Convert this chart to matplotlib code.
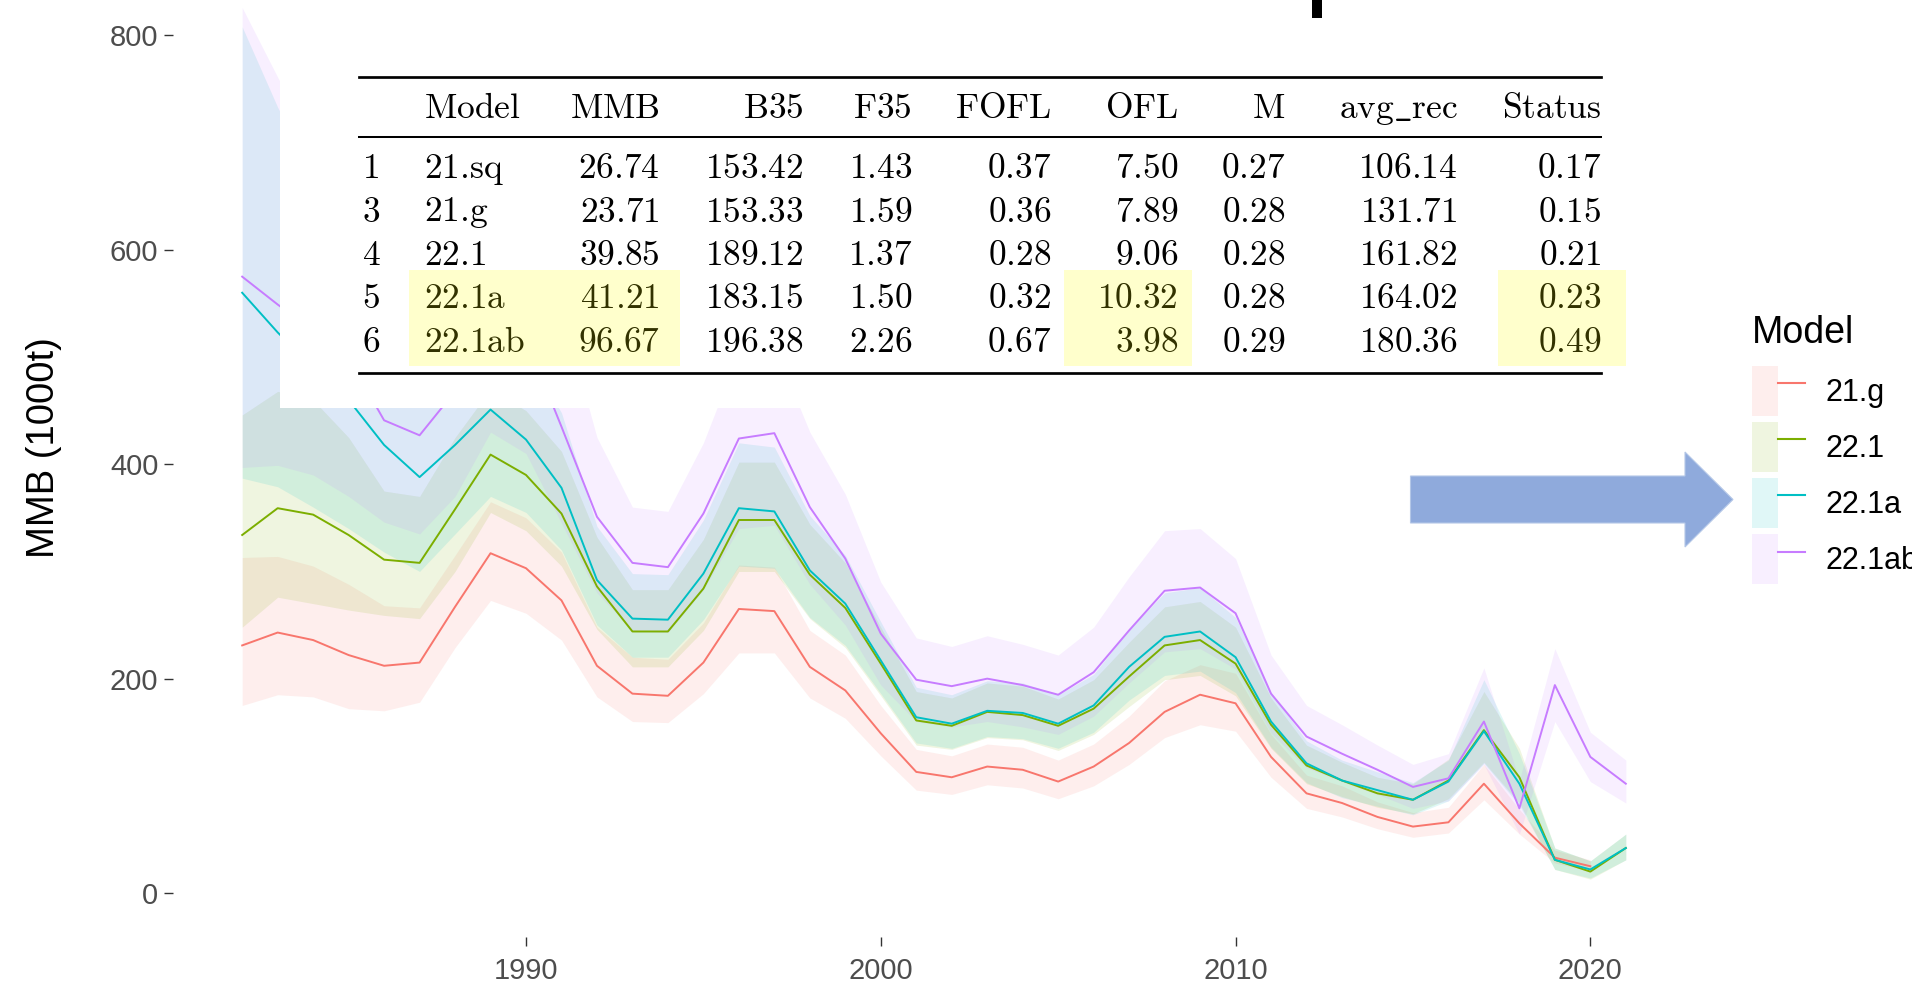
import numpy as np
import matplotlib.pyplot as plt
from matplotlib.patches import Rectangle, Patch, FancyArrow
from matplotlib.lines import Line2D
from matplotlib.legend_handler import HandlerTuple

plt.rcParams['font.family'] = ['Liberation Sans', 'DejaVu Sans']
plt.rcParams['mathtext.fontset'] = 'cm'

nan = np.nan
years = np.arange(1982, 2022)
models = ['21.g', '22.1', '22.1a', '22.1ab']
colors = ['#F8766D', '#7CAE00', '#00BFC4', '#C77CFF']

# MMB (1000t), 1982-2021
mmb_21g = [231, 243, 236, 222, 212, 215, 267, 317, 303, 273, 212, 186, 184, 215, 265, 263, 211, 189, 149, 113,
           108, 118, 115, 104, 118, 140, 169, 185, 177, 127, 93, 84, 71, 62, 66, 102, 65, 33, 25, nan]
lo_21g = [175, 185, 183, 172, 170, 178, 229, 273, 261, 236, 183, 160, 159, 186, 224, 224, 182, 163, 128, 96,
          92, 101, 98, 88, 100, 120, 145, 157, 151, 108, 79, 71, 60, 52, 56, 87, 55, 28, 21, nan]
hi_21g = [313, 314, 305, 288, 268, 266, 315, 365, 350, 318, 248, 220, 218, 252, 306, 304, 245, 222, 175, 134,
          128, 139, 136, 124, 139, 165, 198, 213, 205, 148, 110, 100, 85, 75, 80, 120, 78, 40, 31, nan]

mmb_221 = [334, 359, 353, 334, 311, 308, 358, 409, 390, 354, 286, 244, 244, 284, 348, 348, 297, 266, 214, 161,
           156, 169, 166, 156, 172, 202, 231, 236, 214, 157, 119, 105, 93, 87, 105, 152, 108, 31, 20, 42]
lo_221 = [248, 276, 270, 264, 259, 256, 300, 355, 338, 305, 246, 211, 211, 245, 300, 300, 256, 229, 184, 138,
          134, 145, 143, 133, 148, 174, 199, 203, 184, 135, 102, 90, 80, 74, 88, 122, 84, 22, 13, 31]
hi_221 = [446, 468, 460, 425, 375, 370, 425, 470, 450, 412, 332, 283, 283, 330, 402, 402, 344, 308, 248, 188,
          182, 196, 193, 181, 199, 234, 267, 272, 248, 182, 138, 122, 108, 102, 125, 188, 135, 42, 30, 55]

mmb_221a = [560, 523, 490, 460, 418, 388, 418, 451, 423, 378, 292, 256, 255, 298, 359, 356, 301, 270, 217, 164,
            158, 170, 168, 158, 175, 211, 239, 244, 220, 160, 121, 105, 96, 87, 104, 151, 102, 31, 22, 42]
lo_221a = [387, 379, 360, 340, 318, 300, 335, 370, 355, 320, 250, 220, 220, 255, 305, 303, 257, 231, 186, 140,
           135, 146, 144, 135, 150, 180, 203, 207, 187, 136, 103, 89, 81, 73, 86, 121, 82, 22, 14, 31]
hi_221a = [808, 733, 670, 615, 550, 505, 525, 550, 505, 448, 342, 298, 297, 348, 420, 416, 352, 315, 253, 192,
           185, 198, 196, 185, 204, 246, 280, 285, 257, 187, 142, 124, 113, 103, 124, 199, 130, 42, 30, 55]

mmb_221ab = [575, 549, 525, 499, 441, 427, 468, 545, 517, 435, 351, 308, 304, 354, 424, 429, 360, 312, 242, 199,
             193, 200, 194, 185, 206, 245, 282, 285, 261, 186, 146, 130, 115, 99, 107, 160, 79, 194, 127, 102]
lo_221ab = [397, 399, 390, 370, 346, 335, 370, 430, 410, 345, 280, 245, 243, 283, 340, 343, 288, 250, 194, 160,
            155, 160, 155, 148, 165, 196, 225, 228, 209, 149, 117, 104, 92, 79, 86, 120, 55, 160, 104, 84]
hi_221ab = [826, 761, 700, 650, 570, 545, 590, 680, 650, 545, 425, 360, 356, 420, 505, 510, 430, 372, 290, 238,
            230, 240, 232, 222, 248, 295, 338, 340, 312, 222, 175, 157, 138, 120, 130, 210, 105, 228, 150, 124]

mids = [mmb_21g, mmb_221, mmb_221a, mmb_221ab]
lows = [lo_21g, lo_221, lo_221a, lo_221ab]
highs = [hi_21g, hi_221, hi_221a, hi_221ab]

# table pasted on top of the chart
tbl_header = ['Model', 'MMB', 'B35', 'F35', 'FOFL', 'OFL', 'M', r'avg\_rec', 'Status']
tbl_rows = ['1', '3', '4', '5', '6']
tbl_model = ['21.sq', '21.g', '22.1', '22.1a', '22.1ab']
tbl_mmb = ['26.74', '23.71', '39.85', '41.21', '96.67']
tbl_b35 = ['153.42', '153.33', '189.12', '183.15', '196.38']
tbl_f35 = ['1.43', '1.59', '1.37', '1.50', '2.26']
tbl_fofl = ['0.37', '0.36', '0.28', '0.32', '0.67']
tbl_ofl = ['7.50', '7.89', '9.06', '10.32', '3.98']
tbl_m = ['0.27', '0.28', '0.28', '0.28', '0.29']
tbl_rec = ['106.14', '131.71', '161.82', '164.02', '180.36']
tbl_status = ['0.17', '0.15', '0.21', '0.23', '0.49']

W, H = 1912, 984
fig = plt.figure(figsize=(W / 100, H / 100), dpi=100)
fig.patch.set_facecolor('white')


def fx(px):
    return px / W


def fy(py):
    return 1 - py / H


# main panel (top runs off the picture, as in the screenshot)
ymin, ymax = -41, 880
ppu = 1.072
ax = fig.add_axes([fx(173), fy(937), (1695 - 173) / W, (ymax - ymin) * ppu / H])
for c, lo, hi in zip(colors, lows, highs):
    ax.fill_between(years, lo, hi, color=c, alpha=0.12, linewidth=0)
for c, m in zip(colors, mids):
    ax.plot(years, m, color=c, lw=1.4)

ax.set_xlim(1980.05, 2022.95)
ax.set_ylim(ymin, ymax)
ax.set_xticks([1990, 2000, 2010, 2020])
ax.set_yticks([0, 200, 400, 600, 800])
for s in ax.spines.values():
    s.set_visible(False)
ax.tick_params(length=6.5, width=1.0, color='#333333', labelsize=21, labelcolor='#4D4D4D', pad=4)
ax.tick_params(axis='x', pad=8)
ax.set_ylabel('MMB (1000t)', fontsize=27.5, color='black')
ax.yaxis.set_label_coords(fx(62), fy(448), transform=fig.transFigure)

# legend
handles = [(Patch(facecolor=c, alpha=0.12, edgecolor='none'), Line2D([], [], color=c, lw=1.5)) for c in colors]
fig.legend(handles, models, loc='upper left', bbox_to_anchor=(fx(1752), fy(366)),
           fontsize=22, frameon=False, handlelength=1.73, handleheight=2.14,
           labelspacing=0.2, handletextpad=0.69, borderpad=0, borderaxespad=0,
           handler_map={tuple: HandlerTuple(ndivide=None, pad=0)})
fig.text(fx(1752), fy(333), 'Model', fontsize=27, ha='left', va='center')

# white box with the table
fig.add_artist(Rectangle((fx(280), fy(408)), fx(1660) - fx(280), 408 / H, transform=fig.transFigure,
                         facecolor='white', edgecolor='none', zorder=5))
for y, lw in [(76.5, 1.95), (136.5, 1.45), (372.5, 1.95)]:
    fig.add_artist(Line2D([fx(359), fx(1601)], [fy(y), fy(y)], transform=fig.transFigure,
                          color='black', lw=lw, zorder=6))

fs = 25.5
cols = [tbl_model, tbl_mmb, tbl_b35, tbl_f35, tbl_fofl, tbl_ofl, tbl_m, tbl_rec, tbl_status]
col_x = [423.5, 660, 804, 912, 1051, 1178, 1285, 1457.5, 1601]
col_ha = ['left'] + ['right'] * 8
baselines = [178, 221.5, 265, 308.5, 352]
for h, x, ha in zip(tbl_header, col_x, col_ha):
    fig.text(fx(x), fy(118), '$\\mathrm{' + h + '}$', fontsize=fs, ha=ha, va='baseline', zorder=7)
for r, yb in zip(tbl_rows, baselines):
    fig.text(fx(362), fy(yb), '$\\mathrm{' + r + '}$', fontsize=fs, ha='left', va='baseline', zorder=7)
for i, (col, x, ha) in enumerate(zip(cols, col_x, col_ha)):
    for v, yb in zip(col, baselines):
        s = '$\\text{' + v + '}$' if i == 0 else '$\\mathrm{' + v + '}$'
        fig.text(fx(x), fy(yb), s, fontsize=fs, ha=ha, va='baseline', zorder=7)

# yellow highlighter over rows 5-6
for x0, x1 in [(408.5, 680), (1064, 1192), (1498, 1626)]:
    fig.add_artist(Rectangle((fx(x0), fy(365.5)), fx(x1) - fx(x0), (365.5 - 270) / H, transform=fig.transFigure,
                             facecolor='#FFFF00', alpha=0.2, edgecolor='none', zorder=8))

# stray mark at top edge
fig.add_artist(Rectangle((fx(1312), fy(18)), 10 / W, 18 / H, transform=fig.transFigure,
                         facecolor='black', edgecolor='none', zorder=9))

# blue arrow pointing at the legend
fig.add_artist(FancyArrow(fx(1410.5), fy(499.5), fx(1733) - fx(1410.5), 0, width=47 / H, head_width=95 / H,
                          head_length=48 / W, length_includes_head=True, transform=fig.transFigure,
                          facecolor='#8FAADC', edgecolor='#B4C7E7', lw=0.8, zorder=9))

fig.savefig('out.png', dpi=100)
